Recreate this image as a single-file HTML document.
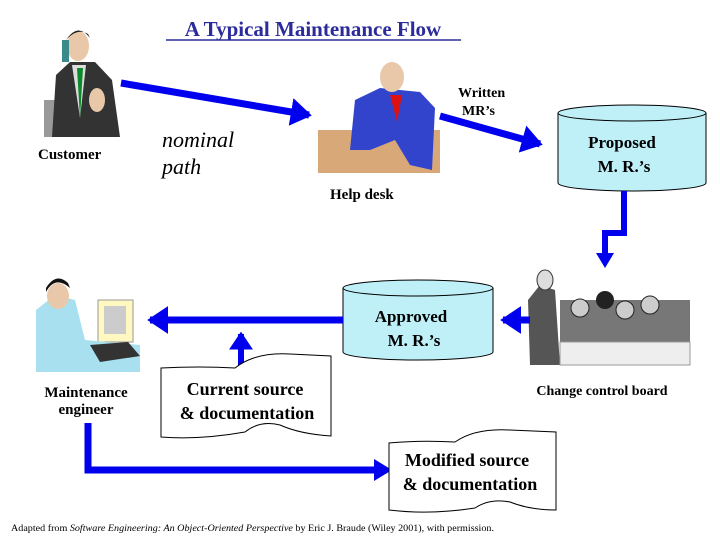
<!DOCTYPE html>
<html><head><meta charset="utf-8"><style>
html,body{margin:0;padding:0;background:#fff}
svg{display:block}
text{font-family:"Liberation Serif",serif}
</style></head><body>
<svg width="720" height="540" viewBox="0 0 720 540" xmlns="http://www.w3.org/2000/svg">
<defs>
<marker id="ah" markerWidth="4" markerHeight="4" refX="2.6" refY="2" orient="auto" markerUnits="strokeWidth">
<path d="M0,0 L3,2 L0,4 z" fill="#0000ee"/>
</marker>
</defs>
<!-- title -->
<text x="313" y="36" text-anchor="middle" font-size="21" font-weight="bold" fill="#2b2b9b">A Typical Maintenance Flow</text>
<line x1="166" y1="40" x2="461" y2="40" stroke="#2b2b9b" stroke-width="1.5"/>

<!-- customer clipart -->
<rect x="44" y="100" width="20" height="37" fill="#999"/>
<path d="M52,137 L56,75 L70,62 L95,62 L112,80 L120,137 Z" fill="#333"/>
<path d="M72,65 L80,118 L86,65 Z" fill="#ddd"/>
<path d="M77,68 L80,118 L83,68 Z" fill="#0a8a2a"/>
<ellipse cx="78" cy="46" rx="11" ry="15" fill="#e8c8a8"/>
<path d="M66,40 Q78,22 90,38 L88,34 Q78,28 68,38Z" fill="#222"/>
<rect x="62" y="40" width="7" height="22" fill="#3a8a8a"/>
<ellipse cx="97" cy="100" rx="8" ry="12" fill="#e8c8a8"/>
<text x="38" y="159" font-size="15" font-weight="bold">Customer</text>

<!-- nominal path -->
<text x="162" y="147" font-size="22" font-style="italic">nominal</text>
<text x="162" y="174" font-size="22" font-style="italic">path</text>

<!-- arrow customer -> help desk -->
<line x1="121" y1="83" x2="309" y2="115" stroke="#0000ee" stroke-width="7" marker-end="url(#ah)"/>

<!-- help desk clipart -->
<rect x="318" y="130" width="122" height="43" fill="#d8a878"/>
<path d="M350,150 L355,100 L380,88 L420,92 L435,108 L432,170 L410,165 L395,140 L370,150 Z" fill="#3344cc"/>
<path d="M390,95 L397,122 L402,95 Z" fill="#dd1111"/>
<ellipse cx="392" cy="77" rx="12" ry="15" fill="#e8c8a8"/>
<text x="330" y="199" font-size="15" font-weight="bold">Help desk</text>

<!-- Written MR's -->
<text x="458" y="97" font-size="14" font-weight="bold">Written</text>
<text x="462" y="115" font-size="14" font-weight="bold">MR’s</text>
<line x1="440" y1="116" x2="540" y2="144" stroke="#0000ee" stroke-width="7" marker-end="url(#ah)"/>

<!-- Proposed cylinder -->
<path d="M558,113 L558,183 A74,8 0 0 0 706,183 L706,113" fill="#bff0f8" stroke="#000" stroke-width="1"/>
<ellipse cx="632" cy="113" rx="74" ry="8" fill="#bff0f8" stroke="#000" stroke-width="1"/>
<text x="622" y="148" text-anchor="middle" font-size="17" font-weight="bold">Proposed</text>
<text x="624" y="172" text-anchor="middle" font-size="17" font-weight="bold">M. R.’s</text>

<!-- down arrow -->
<polyline points="624,191 624,233 605,233 605,256" fill="none" stroke="#0000ee" stroke-width="6"/>
<path d="M596,253 L614,253 L605,268 Z" fill="#0000ee"/>

<!-- Approved cylinder -->
<path d="M343,288 L343,352 A75,8 0 0 0 493,352 L493,288" fill="#bff0f8" stroke="#000" stroke-width="1"/>
<ellipse cx="418" cy="288" rx="75" ry="8" fill="#bff0f8" stroke="#000" stroke-width="1"/>
<text x="411" y="322" text-anchor="middle" font-size="17" font-weight="bold">Approved</text>
<text x="414" y="346" text-anchor="middle" font-size="17" font-weight="bold">M. R.’s</text>

<!-- CCB clipart -->
<path d="M530,365 L528,300 L540,285 L555,290 L560,365 Z" fill="#555"/>
<ellipse cx="545" cy="280" rx="8" ry="10" fill="#ddd" stroke="#333"/>
<rect x="560" y="300" width="130" height="42" fill="#777"/>
<circle cx="580" cy="308" r="9" fill="#ccc" stroke="#222"/>
<circle cx="605" cy="300" r="9" fill="#222"/>
<circle cx="625" cy="310" r="9" fill="#ccc" stroke="#222"/>
<circle cx="650" cy="305" r="9" fill="#ccc" stroke="#222"/>
<path d="M560,342 L690,342 L690,365 L560,365Z" fill="#eee" stroke="#999"/>
<text x="602" y="395" text-anchor="middle" font-size="14" font-weight="bold">Change control board</text>

<!-- arrow CCB -> Approved -->
<line x1="530" y1="320" x2="503" y2="320" stroke="#0000ee" stroke-width="7" marker-end="url(#ah)"/>
<!-- arrow Approved -> engineer -->
<line x1="343" y1="320" x2="150" y2="320" stroke="#0000ee" stroke-width="7" marker-end="url(#ah)"/>
<!-- up arrow current source -->
<line x1="241" y1="368" x2="241" y2="334" stroke="#0000ee" stroke-width="6" marker-end="url(#ah)"/>

<!-- maintenance engineer clipart -->
<rect x="98" y="300" width="35" height="42" fill="#fff8c0" stroke="#999"/>
<rect x="104" y="306" width="22" height="28" fill="#ccc"/>
<path d="M36,372 L36,310 L55,295 L75,300 L85,340 L140,345 L140,372 Z" fill="#a8e0f0"/>
<path d="M90,345 L128,342 L140,356 L100,362Z" fill="#333"/>
<ellipse cx="58" cy="296" rx="11" ry="13" fill="#e8c8a8"/>
<path d="M46,292 Q55,275 70,288 L68,283 Q56,272 46,288Z" fill="#111"/>
<text x="86" y="397" text-anchor="middle" font-size="15" font-weight="bold">Maintenance</text>
<text x="86" y="414" text-anchor="middle" font-size="15" font-weight="bold">engineer</text>

<!-- Current source doc -->
<path d="M161,368 Q200,366 235,368 Q255,352 290,354 L331,356 L331,436 Q300,434 280,425 Q260,420 245,432 Q200,440 161,437 Z" fill="#fff" stroke="#000" stroke-width="1"/>
<text x="245" y="395" text-anchor="middle" font-size="18" font-weight="bold">Current source</text>
<text x="247" y="419" text-anchor="middle" font-size="18" font-weight="bold">&amp; documentation</text>

<!-- engineer -> modified arrow -->
<polyline points="88,423 88,470 378,470" fill="none" stroke="#0000ee" stroke-width="7"/>
<path d="M374,459 L392,470 L374,481 Z" fill="#0000ee"/>

<!-- Modified source doc -->
<path d="M389,443 Q420,440 455,442 Q475,428 510,430 L556,432 L556,510 Q530,510 510,502 Q490,498 475,508 Q430,515 389,510 Z" fill="#fff" stroke="#000" stroke-width="1"/>
<text x="467" y="466" text-anchor="middle" font-size="18" font-weight="bold">Modified source</text>
<text x="470" y="490" text-anchor="middle" font-size="18" font-weight="bold">&amp; documentation</text>

<!-- footer -->
<text x="11" y="531" font-size="9" textLength="483" lengthAdjust="spacingAndGlyphs">Adapted from <tspan font-style="italic">Software Engineering: An Object-Oriented Perspective</tspan> by Eric J. Braude (Wiley 2001), with permission.</text>
</svg>
</body></html>
